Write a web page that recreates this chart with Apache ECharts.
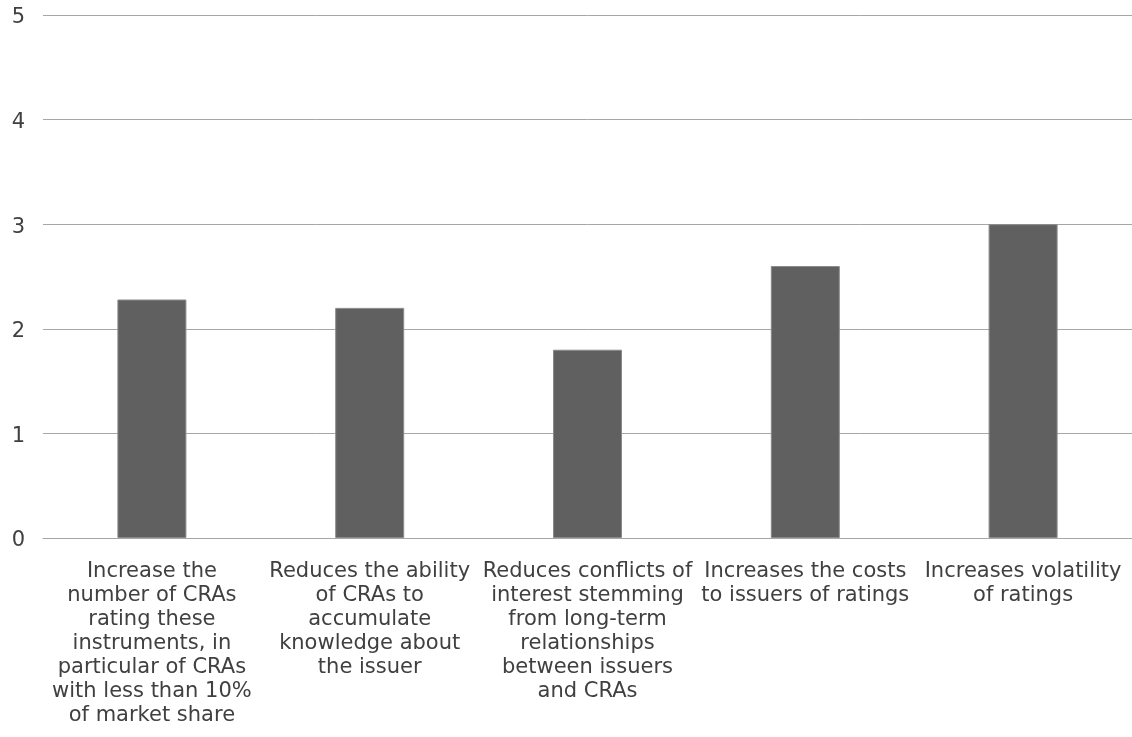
<!DOCTYPE html>
<html>
<head>
<meta charset="utf-8">
<style>
  html, body { margin: 0; padding: 0; background: #ffffff; }
  #chart { width: 1132px; height: 737px; }
</style>
<script src="https://cdn.jsdelivr.net/npm/echarts@6/dist/echarts.min.js"></script>
</head>
<body>
<div id="chart"></div>
<script>
// Effects of the measure, average score per statement
const categories = [
  'Increase the\nnumber of CRAs\nrating these\ninstruments, in\nparticular of CRAs\nwith less than 10%\nof market share',
  'Reduces the ability\nof CRAs to\naccumulate\nknowledge about\nthe issuer',
  'Reduces conflicts of\ninterest stemming\nfrom long-term\nrelationships\nbetween issuers\nand CRAs',
  'Increases the costs\nto issuers of ratings',
  'Increases volatility\nof ratings'
];
const scores = [2.28, 2.2, 1.8, 2.6, 3.0];
const yTicks = { min: 0, max: 5, interval: 1 };

const chart = echarts.init(document.getElementById('chart'), null, { renderer: 'canvas' });
const font = '"DejaVu Sans", sans-serif';

chart.setOption({
  animation: false,
  backgroundColor: '#ffffff',
  grid: { left: 43, right: 0, top: 15, bottom: 199 },
  xAxis: {
    type: 'category',
    data: categories,
    axisLine: { show: true, lineStyle: { color: '#a6a6a6', width: 1 } },
    axisTick: { show: false },
    axisLabel: {
      interval: 0,
      margin: 22,
      color: '#404040',
      fontFamily: font,
      fontSize: 21,
      lineHeight: 24,
      align: 'center',
      verticalAlign: 'top'
    }
  },
  yAxis: {
    type: 'value',
    min: yTicks.min,
    max: yTicks.max,
    interval: yTicks.interval,
    axisLine: { show: false },
    axisTick: { show: false },
    splitLine: { lineStyle: { color: '#a6a6a6', width: 1 } },
    axisLabel: {
      margin: 18,
      color: '#404040',
      fontFamily: font,
      fontSize: 21,
      lineHeight: 6,
      verticalAlign: 'top'
    }
  },
  series: [{
    type: 'bar',
    data: scores,
    barWidth: 69,
    itemStyle: { color: '#606060', borderColor: '#8a8a8a', borderWidth: 1 }
  }]
});
</script>
</body>
</html>
